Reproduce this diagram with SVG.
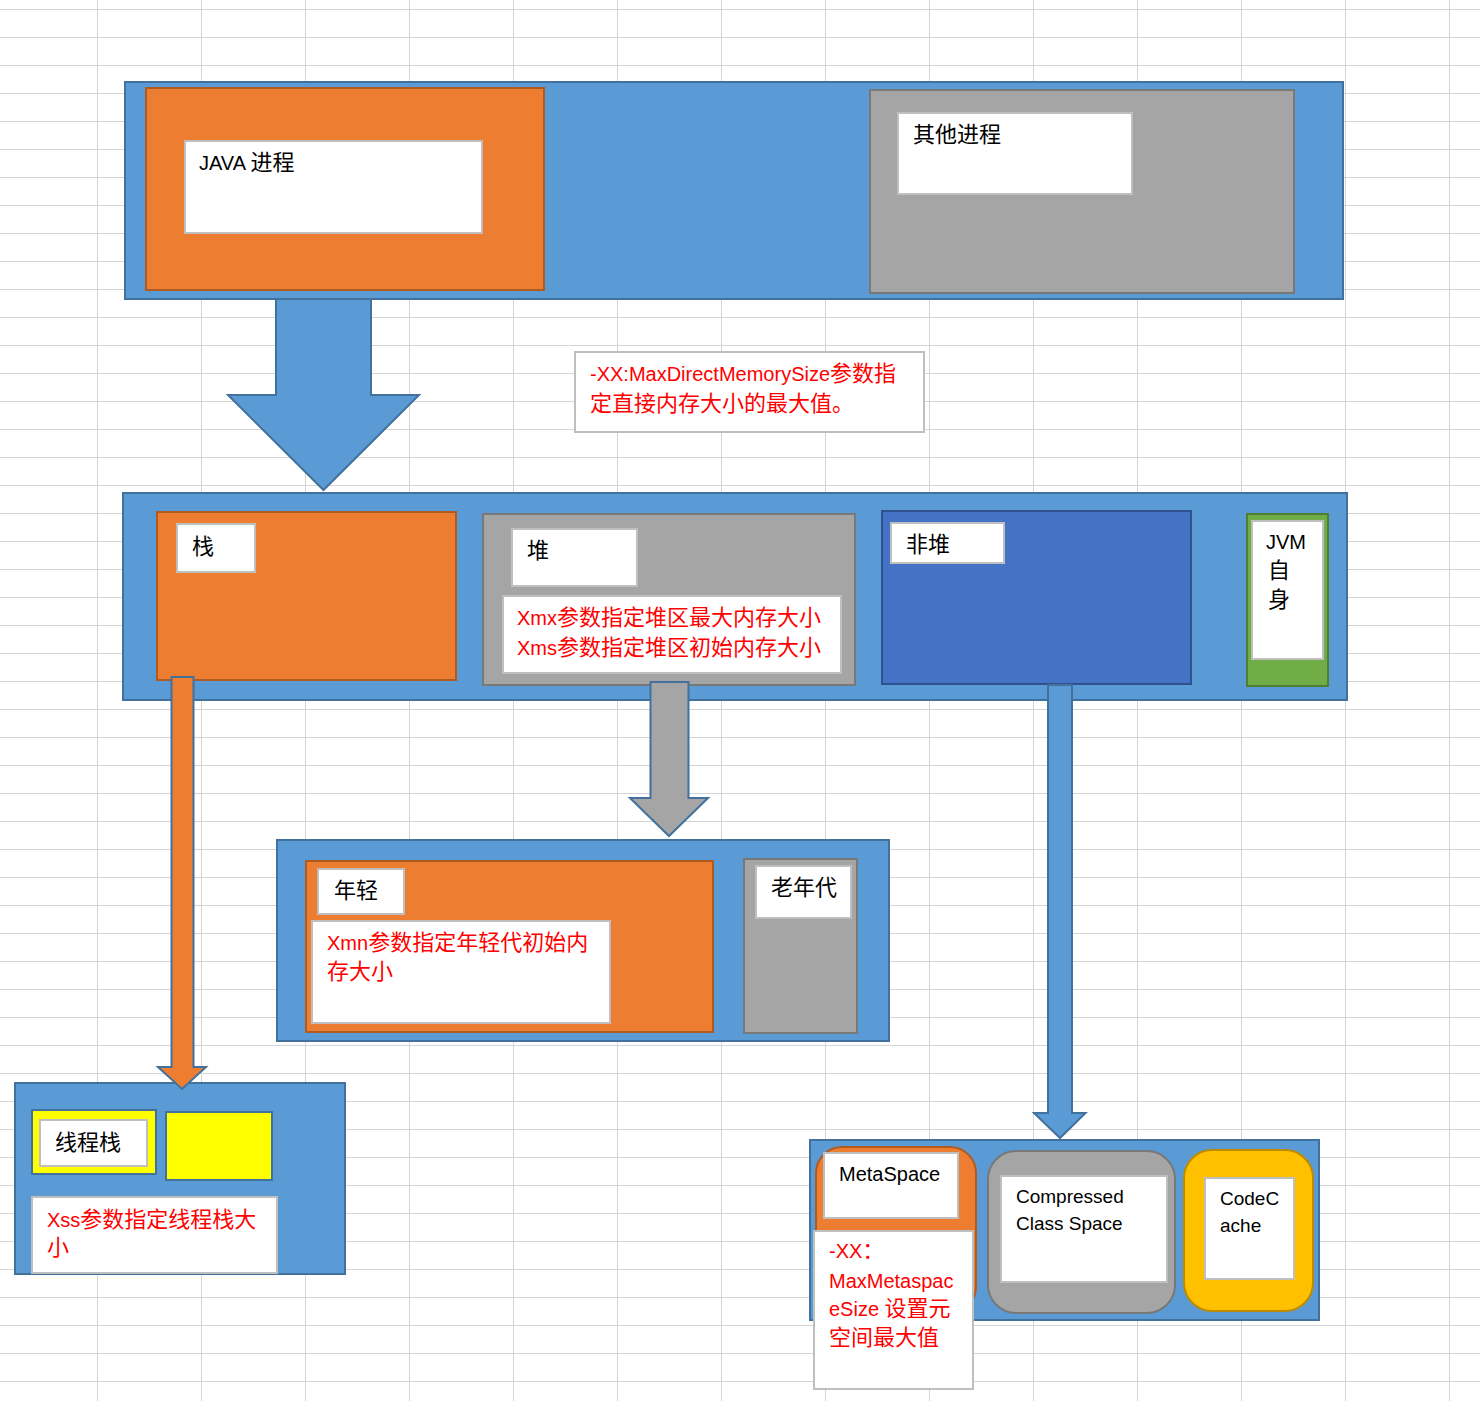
<svg xmlns="http://www.w3.org/2000/svg" width="1480" height="1401" viewBox="0 0 1480 1401">
<style>
text{font-family:"Liberation Sans","Noto Sans CJK SC",sans-serif;font-size:20px;fill:#000}
.c{font-size:22px}
.red{fill:#ff0000}
.blue{fill:#5b9bd5;stroke:#41719c;stroke-width:2}
.dblue{fill:#4472c4;stroke:#2f528f;stroke-width:2}
.orange{fill:#ed7d31;stroke:#ae5a21;stroke-width:2}
.gray{fill:#a5a5a5;stroke:#787878;stroke-width:2}
.green{fill:#70ad47;stroke:#507e32;stroke-width:2}
.gold{fill:#ffc000;stroke:#bc8c00;stroke-width:2}
.yellow{fill:#ffff00;stroke:#41719c;stroke-width:2}
.white{fill:#fff;stroke:#bfbfbf;stroke-width:2}
.arrow{stroke:#41719c;stroke-width:2;stroke-linejoin:miter}
</style>
<defs>
<pattern id="grid" x="97" y="9" width="104" height="28" patternUnits="userSpaceOnUse">
<path d="M0.5 0V28M0 0.5H104" fill="none" stroke="#d4d4d4" stroke-width="1"/>
</pattern>
</defs>
<rect width="1480" height="1401" fill="#fff"/>
<rect width="1480" height="1401" fill="url(#grid)"/>

<g id="process-container">
<rect class="blue" x="125" y="82" width="1218" height="217"/>
</g>
<g id="java-process">
<rect class="orange" x="146" y="88" width="398" height="202"/>
<rect class="white" x="185" y="141" width="297" height="92"/>
<text x="199" y="170">JAVA <tspan class="c">进程</tspan></text>
</g>
<g id="other-process">
<rect class="gray" x="870" y="90" width="424" height="203"/>
<rect class="white" x="898" y="113" width="234" height="81"/>
<text class="c" x="913" y="142">其他进程</text>
</g>
<g id="direct-memory-note">
<rect class="white" x="575" y="352" width="349" height="80"/>
<text class="red" x="590" y="381">-XX:MaxDirectMemorySize<tspan class="c">参数指</tspan></text>
<text class="red c" x="590" y="411">定直接内存大小的最大值。</text>
</g>

<g id="jvm-memory">
<rect class="blue" x="123" y="493" width="1224" height="207"/>
</g>
<g id="stack">
<rect class="orange" x="157" y="512" width="299" height="168"/>
<rect class="white" x="177" y="524" width="78" height="48"/>
<text class="c" x="192" y="554">栈</text>
</g>
<g id="heap">
<rect class="gray" x="483" y="514" width="372" height="171"/>
<rect class="white" x="512" y="529" width="125" height="57"/>
<text class="c" x="527" y="558">堆</text>
<rect class="white" x="503" y="596" width="338" height="77"/>
<text class="red" x="517" y="625">Xmx<tspan class="c">参数指定堆区最大内存大小</tspan></text>
<text class="red" x="517" y="655">Xms<tspan class="c">参数指定堆区初始内存大小</tspan></text>
</g>
<g id="non-heap">
<rect class="dblue" x="882" y="511" width="309" height="173"/>
<rect class="white" x="891" y="523" width="113" height="40"/>
<text class="c" x="906" y="552">非堆</text>
</g>
<g id="jvm-self">
<rect class="green" x="1247" y="514" width="81" height="172"/>
<rect class="white" x="1252" y="521" width="71" height="138"/>
<text x="1266" y="549">JVM</text>
<text class="c" x="1268" y="578">自</text>
<text class="c" x="1268" y="607">身</text>
</g>

<g id="heap-generations">
<rect class="blue" x="277" y="840" width="612" height="201"/>
</g>
<g id="young-gen">
<rect class="orange" x="306" y="861" width="407" height="171"/>
<rect class="white" x="318" y="869" width="86" height="45"/>
<text class="c" x="334" y="898">年轻</text>
<rect class="white" x="312" y="921" width="298" height="102"/>
<text class="red" x="327" y="950">Xmn<tspan class="c">参数指定年轻代初始内</tspan></text>
<text class="red c" x="327" y="979">存大小</text>
</g>
<g id="old-gen">
<rect class="gray" x="744" y="859" width="113" height="174"/>
<rect class="white" x="756" y="866" width="95" height="52"/>
<text class="c" x="771" y="895">老年代</text>
</g>

<g id="thread-stacks">
<rect class="blue" x="15" y="1083" width="330" height="191"/>
<rect class="yellow" x="32" y="1110" width="124" height="64"/>
<rect class="white" x="40" y="1120" width="107" height="46"/>
<text class="c" x="55" y="1150">线程栈</text>
<rect class="yellow" x="166" y="1112" width="106" height="68"/>
<rect class="white" x="32" y="1197" width="245" height="76"/>
<text class="red" x="47" y="1227">Xss<tspan class="c">参数指定线程栈大</tspan></text>
<text class="red c" x="47" y="1255">小</text>
</g>

<g id="non-heap-detail">
<rect class="blue" x="810" y="1140" width="509" height="180"/>
</g>
<g id="compressed-class-space">
<rect class="gray" x="988" y="1151" width="187" height="162" rx="28"/>
<rect class="white" x="1001" y="1176" width="166" height="106"/>
<text x="1016" y="1203" style="font-size:19px">Compressed</text>
<text x="1016" y="1230" style="font-size:19px">Class Space</text>
</g>
<g id="code-cache">
<rect class="gold" x="1184" y="1150" width="129" height="161" rx="28"/>
<rect class="white" x="1205" y="1178" width="89" height="101"/>
<text x="1220" y="1205" style="font-size:19px">CodeC</text>
<text x="1220" y="1232" style="font-size:19px">ache</text>
</g>
<g id="metaspace">
<rect class="orange" x="816" y="1147" width="160" height="166" rx="26"/>
<rect class="white" x="824" y="1153" width="134" height="65"/>
<text x="839" y="1181">MetaSpace</text>
<rect class="white" x="814" y="1231" width="159" height="158"/>
<text class="red" x="829" y="1258">-XX<tspan class="c">：</tspan></text>
<text class="red" x="829" y="1288">MaxMetaspac</text>
<text class="red" x="829" y="1316">eSize <tspan class="c">设置元</tspan></text>
<text class="red c" x="829" y="1345">空间最大值</text>
</g>

<g id="connectors">
<polygon class="arrow" fill="#5b9bd5" points="276,299 371,299 371,395 419,395 323.5,490 228,395 276,395"/>
<polygon class="arrow" fill="#ed7d31" points="171.5,677 193.5,677 193.5,1067 206,1067 182,1089 158,1067 171.5,1067"/>
<polygon class="arrow" fill="#a5a5a5" points="650.5,682 688.5,682 688.5,798 708,798 669,836 630,798 650.5,798"/>
<polygon class="arrow" fill="#5b9bd5" points="1048,685 1072,685 1072,1113 1085.5,1113 1060,1138 1034,1113 1048,1113"/>
</g>
</svg>
